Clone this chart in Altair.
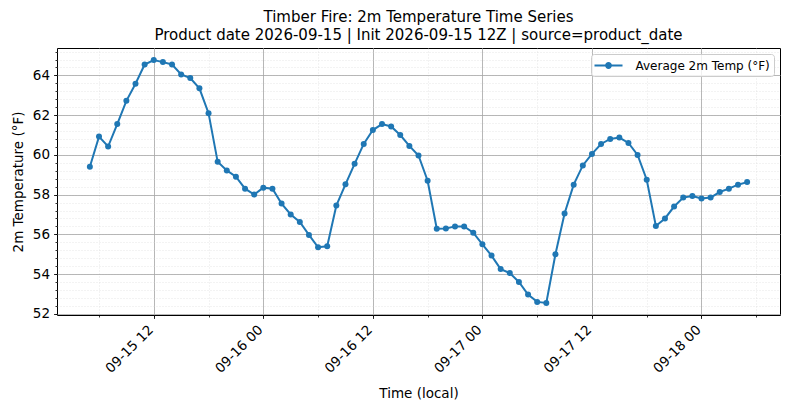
import pandas as pd
import altair as alt

# hourly 2m temperature (°F), starting 2026-09-15 05:00 local
start_time = "2026-09-15 05:00"
temps_0915 = [59.40, 60.92, 60.42, 61.55, 62.72, 63.58, 64.55, 64.77, 64.67, 64.55,
              64.05, 63.87, 63.35, 62.10, 59.65, 59.22, 58.90, 58.30, 58.00]
temps_0916 = [58.35, 58.30, 57.55, 57.00, 56.62, 55.97, 55.35, 55.40, 57.45, 58.52,
              59.55, 60.55, 61.25, 61.55, 61.43, 61.00, 60.45, 59.97, 58.70, 56.28,
              56.30, 56.40, 56.40, 56.08]
temps_0917 = [55.50, 54.93, 54.25, 54.05, 53.60, 52.97, 52.60, 52.55, 55.00, 57.05,
              58.50, 59.47, 60.05, 60.55, 60.80, 60.87, 60.60, 60.00, 58.75, 56.42,
              56.80, 57.40, 57.85, 57.93]
temps_0918 = [57.80, 57.85, 58.13, 58.30, 58.50, 58.63]
series_name = "Average 2m Temp (°F)"

title_lines = ["Timber Fire: 2m Temperature Time Series",
               "Product date 2026-09-15 | Init 2026-09-15 12Z | source=product_date"]

temps = temps_0915 + temps_0916 + temps_0917 + temps_0918
times = pd.date_range(start_time, periods=len(temps), freq="h")
df = pd.DataFrame({
    "time": times.strftime("%Y-%m-%dT%H:%M:%S"),
    "temp": temps,
    "series": series_name,
})


def dt(ts):
    return alt.DateTime(year=ts.year, month=ts.month, date=ts.day,
                        hours=ts.hour, minutes=ts.minute)


x_domain = [dt(pd.Timestamp("2026-09-15 01:24")), dt(pd.Timestamp("2026-09-18 08:36"))]
x_major = [dt(t) for t in pd.date_range("2026-09-15 12:00", "2026-09-18 00:00", freq="12h")]
x_minor = [dt(t) for t in pd.date_range("2026-09-15 06:00", "2026-09-18 06:00", freq="6h")]
y_domain = [51.94, 65.38]
y_major = [52, 54, 56, 58, 60, 62, 64]
y_minor = [round(52 + 0.4 * i, 1) for i in range(34)]

FONT = "DejaVu Sans"
BLUE = "#1f77b4"

x_scale = alt.Scale(domain=x_domain)
y_scale = alt.Scale(domain=y_domain, nice=False, zero=False)

# invisible layer that carries the minor ticks + dotted minor grid
minor = alt.Chart(df).mark_point(opacity=0).encode(
    x=alt.X("time:T", scale=x_scale, axis=alt.Axis(
        orient="bottom", values=x_minor,
        labels=False, title=None, domain=False, tickSize=2, tickColor="black",
        grid=True, gridColor="#d9d9d9", gridDash=[1, 2], gridWidth=0.6)),
    y=alt.Y("temp:Q", scale=y_scale, axis=alt.Axis(
        orient="left", values=y_minor, labels=False, title=None, domain=False,
        tickSize=2, tickColor="black",
        grid=True, gridColor="#d9d9d9", gridDash=[1, 2], gridWidth=0.6)),
)

# line layer carries the major axes
line = alt.Chart(df).mark_line(color=BLUE, strokeWidth=2).encode(
    x=alt.X("time:T", scale=x_scale, axis=alt.Axis(
        orient="bottom", values=x_major,
        format="%m-%d %H", labelAngle=-45, labelAlign="right", labelBaseline="top",
        labelOffset=-8, labelPadding=4, tickSize=3.5, tickColor="black",
        title="Time (local)", titlePadding=12,
        grid=True, gridColor="#a6a6a6", gridWidth=0.8, domain=False)),
    y=alt.Y("temp:Q", scale=y_scale, axis=alt.Axis(
        orient="left", values=y_major, tickSize=3.5, tickColor="black",
        labelPadding=4, title="2m Temperature (°F)", titlePadding=7,
        grid=True, gridColor="#a6a6a6", gridWidth=0.8, domain=False)),
)

points = alt.Chart(df).mark_circle(size=36, opacity=1).encode(
    x=alt.X("time:T", scale=x_scale, axis=None),
    y=alt.Y("temp:Q", scale=y_scale, axis=None),
    color=alt.Color("series:N", scale=alt.Scale(range=[BLUE]), legend=alt.Legend(
        title=None, orient="top-right", offset=6,
        symbolType="M-2,0L2,0M-0.34,0A0.34,0.34,0,1,1,0.34,0A0.34,0.34,0,1,1,-0.34,0Z",
        symbolSize=196, symbolOffset=6, symbolStrokeColor=BLUE, symbolStrokeWidth=2,
        symbolFillColor=BLUE, symbolOpacity=1,
        labelFontSize=12, labelFont=FONT, labelColor="black", labelOffset=19,
        padding=3.5, strokeColor="#cccccc", fillColor="rgba(255,255,255,0.8)",
        cornerRadius=3)),
)

chart = alt.layer(minor, line, points).resolve_axis(
    x="independent", y="independent"
).properties(
    width=723,
    height=267,
    autosize=alt.AutoSizeParams(type="none"),
    padding={"left": 49, "top": 40, "right": 2, "bottom": 92},
    title=alt.TitleParams(text=title_lines, fontSize=15, font=FONT,
                          fontWeight="normal", anchor="middle", color="black",
                          lineHeight=18, offset=5),
).configure_view(
    stroke="black", strokeWidth=1
).configure_axis(
    labelFont=FONT, titleFont=FONT, labelFontSize=13.5, titleFontSize=13.5,
    labelColor="black", titleColor="black", titleFontWeight="normal",
    tickWidth=0.8,
)

chart.save("out.html", embed_options={"renderer": "svg", "actions": False})
